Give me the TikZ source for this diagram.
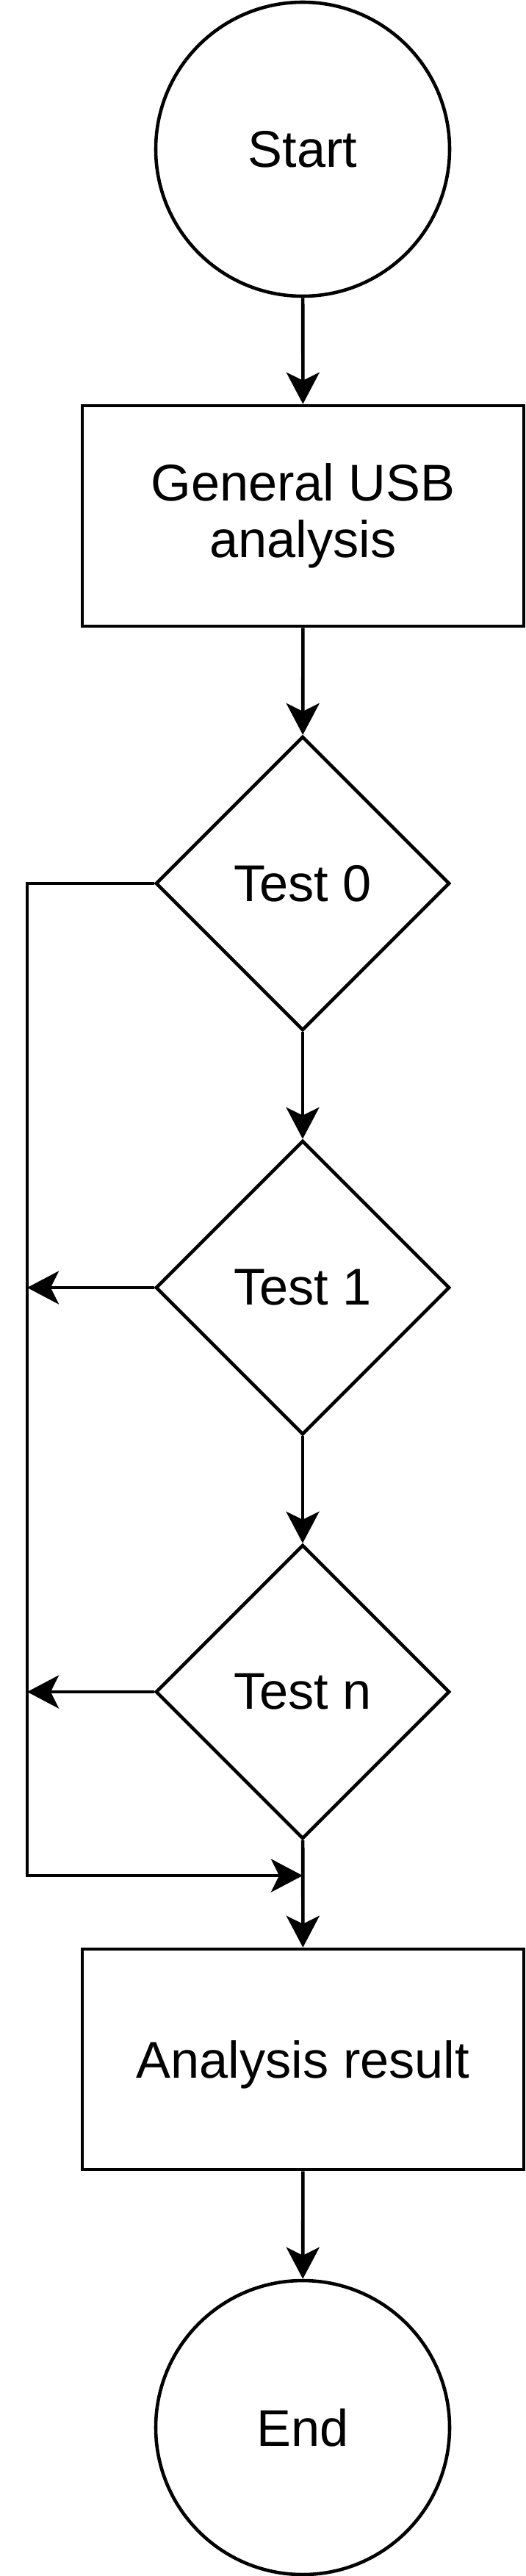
\documentclass[tikz,border=0pt]{standalone}
\usepackage{fontspec}
\setmainfont{Liberation Sans}
\usetikzlibrary{shapes.geometric,arrows.meta}

\begin{document}
\begin{tikzpicture}[line width=1.3pt,
		every node/.style={font=\fontsize{20}{22}\selectfont,align=center},
		term/.style={draw,circle,minimum size=4cm,inner sep=0pt},
		proc/.style={draw,rectangle,minimum width=6.01cm,minimum height=3cm,inner sep=0pt},
		test/.style={draw,diamond,minimum width=4cm,minimum height=4cm,inner sep=0pt}]
		\useasboundingbox (0,0) rectangle (7.15,-35.05);
		%
		\node[term] (start) at (4.12,-2.03) {Start};
		\node[proc] (gen) at (4.125,-7.02) {General USB\\analysis};
		\node[test] (t0) at (4.12,-12.02) {Test 0};
		\node[test] (t1) at (4.12,-17.52) {Test 1};
		\node[test] (tn) at (4.12,-23.02) {Test n};
		\node[proc,text depth=0pt] (res) at (4.125,-28.02) {Analysis result};
		\node[term] (end) at (4.12,-33.03) {End};
		%
		\coordinate (join) at (4.12,-25.52);
		\coordinate (rail) at (0.37,-25.52);
		%
		\path[->,>={Stealth[length=4.3mm,width=4.5mm,inset=1.1mm]}]
		(start) edge (gen)
		(gen) edge (t0)
		(t0) edge (t1)
		(t1) edge (tn)
		(tn) edge (res)
		(res) edge (end)
		(t1.west) edge (t1.west -| rail)
		(tn.west) edge (tn.west -| rail);
		%
		\draw[->,>={Stealth[length=4.3mm,width=4.5mm,inset=1.1mm]}] (t0.west) -| (rail) -- (join);
\end{tikzpicture}
\end{document}
